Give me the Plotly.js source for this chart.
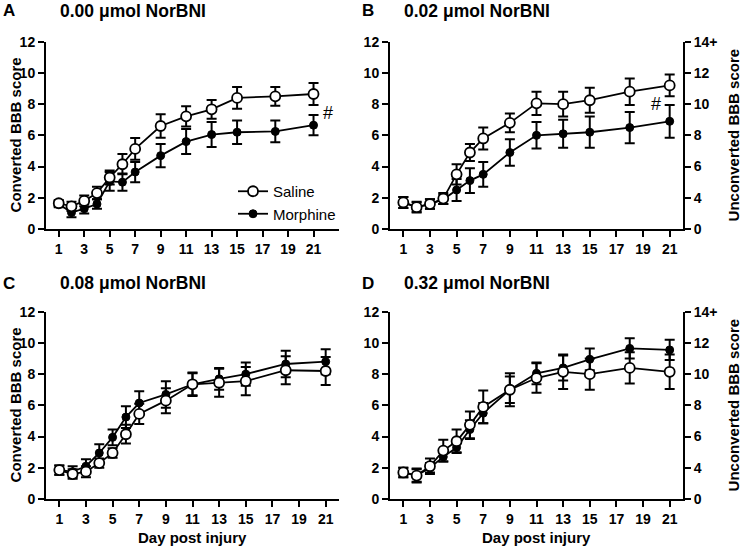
<!DOCTYPE html>
<html>
<head>
<meta charset="utf-8">
<script src="https://cdn.plot.ly/plotly-3.0.1.min.js"></script>
<style>
html,body{margin:0;padding:0;background:#fff;}
#chart{width:741px;height:551px;}
</style>
</head>
<body>
<div id="chart"></div>
<script>
// ---- data ----
const days = [1, 2, 3, 4, 5, 6, 7, 9, 11, 13, 15, 18, 21];
const xTickVals = [1, 3, 5, 7, 9, 11, 13, 15, 17, 19, 21];
const yTickVals = [0, 2, 4, 6, 8, 10, 12];
const rightTickText = ['0', '4', '6', '8', '10', '12', '14+'];
const seriesNames = ['Saline', 'Morphine'];
const panelLetters = ['A', 'B', 'C', 'D'];
const panelTitles = ['0.00 μmol NorBNI', '0.02 μmol NorBNI', '0.08 μmol NorBNI', '0.32 μmol NorBNI'];

// Panel A (0.00 µmol)
const salineA = [1.65, 1.45, 1.8, 2.3, 3.3, 4.15, 5.13, 6.6, 7.22, 7.67, 8.4, 8.5, 8.65];
const salineAErr = [0.2, 0.3, 0.35, 0.4, 0.45, 0.65, 0.7, 0.75, 0.65, 0.6, 0.7, 0.6, 0.7];
const morphineA = [1.6, 1.05, 1.3, 1.6, 3.05, 3.0, 3.65, 4.7, 5.6, 6.05, 6.2, 6.25, 6.65];
const morphineAErr = [0.2, 0.3, 0.3, 0.3, 0.6, 0.55, 0.65, 0.75, 0.8, 0.8, 0.75, 0.7, 0.65];

// Panel B (0.02 µmol)
const salineB = [1.7, 1.4, 1.6, 1.95, 3.5, 4.9, 5.8, 6.8, 8.05, 8.0, 8.25, 8.8, 9.2];
const salineBErr = [0.35, 0.35, 0.3, 0.35, 0.65, 0.55, 0.7, 0.6, 0.75, 0.8, 0.8, 0.85, 0.7];
const morphineB = [1.7, 1.4, 1.6, 1.9, 2.5, 3.1, 3.5, 4.9, 6.0, 6.1, 6.2, 6.5, 6.9];
const morphineBErr = [0.35, 0.3, 0.3, 0.3, 0.7, 0.8, 0.8, 0.85, 0.85, 0.9, 1.0, 1.0, 1.05];

// Panel C (0.08 µmol)
const salineC = [1.85, 1.6, 1.75, 2.3, 2.95, 4.15, 5.45, 6.3, 7.35, 7.45, 7.55, 8.25, 8.2];
const salineCErr = [0.3, 0.3, 0.35, 0.3, 0.3, 0.6, 0.65, 0.8, 0.75, 0.9, 0.9, 0.9, 0.9];
const morphineC = [1.85, 1.75, 2.1, 2.95, 3.95, 5.25, 6.15, 6.7, 7.35, 7.7, 8.0, 8.65, 8.8];
const morphineCErr = [0.3, 0.35, 0.45, 0.55, 0.5, 0.7, 0.75, 0.85, 0.7, 0.7, 0.75, 0.85, 0.8];

// Panel D (0.32 µmol)
const salineD = [1.7, 1.5, 2.1, 3.1, 3.7, 4.75, 5.9, 7.0, 7.75, 8.15, 8.0, 8.4, 8.15];
const salineDErr = [0.3, 0.45, 0.5, 0.7, 0.75, 0.85, 1.05, 0.85, 0.95, 1.1, 1.0, 1.0, 1.1];
const morphineD = [1.7, 1.5, 2.0, 2.7, 3.3, 4.45, 5.5, 7.0, 8.05, 8.4, 8.95, 9.65, 9.55];
const morphineDErr = [0.3, 0.4, 0.3, 0.3, 0.3, 0.6, 0.65, 1.05, 0.7, 0.8, 0.7, 0.65, 0.65];

// ---- build ----
const W = 741, H = 551;
const FONT = 'Liberation Sans, Arial, Helvetica, sans-serif';
const px = v => v / W;
const py = v => 1 - v / H;

const panels = [
  {sal: salineA, salE: salineAErr, mor: morphineA, morE: morphineAErr, xa: 'x', ya: 'y'},
  {sal: salineB, salE: salineBErr, mor: morphineB, morE: morphineBErr, xa: 'x2', ya: 'y2'},
  {sal: salineC, salE: salineCErr, mor: morphineC, morE: morphineCErr, xa: 'x3', ya: 'y3'},
  {sal: salineD, salE: salineDErr, mor: morphineD, morE: morphineDErr, xa: 'x4', ya: 'y4'}
];

const traces = [];
// empty traces so the right-hand (unconverted score) axes get drawn
traces.push({type: 'scatter', mode: 'markers', x: [], y: [], xaxis: 'x2', yaxis: 'y5', showlegend: false, hoverinfo: 'skip'});
traces.push({type: 'scatter', mode: 'markers', x: [], y: [], xaxis: 'x4', yaxis: 'y6', showlegend: false, hoverinfo: 'skip'});
panels.forEach((p, i) => {
  traces.push({
    type: 'scatter', mode: 'lines+markers', name: seriesNames[1],
    x: days, y: p.mor, xaxis: p.xa, yaxis: p.ya,
    error_y: {type: 'data', array: p.morE, visible: true, color: '#000', thickness: 2, width: 5},
    line: {color: '#000', width: 1.8},
    marker: {symbol: 'circle', size: 8, color: '#000', line: {color: '#000', width: 1}},
    showlegend: i === 0, cliponaxis: false
  });
  traces.push({
    type: 'scatter', mode: 'lines+markers', name: seriesNames[0],
    x: days, y: p.sal, xaxis: p.xa, yaxis: p.ya,
    error_y: {type: 'data', array: p.salE, visible: true, color: '#000', thickness: 2, width: 5},
    line: {color: '#000', width: 1.8},
    marker: {symbol: 'circle', size: 10, color: '#fff', line: {color: '#000', width: 1.8}},
    showlegend: i === 0, cliponaxis: false
  });
});

const tickFont = {family: FONT, size: 14, color: '#000', weight: 'bold'};
function xAxis(domain, anchor, range) {
  return {domain, anchor, range, tickvals: xTickVals, ticks: 'outside', ticklen: 6, tickwidth: 2,
    tickcolor: '#000', showline: true, linewidth: 2, linecolor: '#000', showgrid: false,
    zeroline: false, tickfont: tickFont, fixedrange: true};
}
function yAxis(domain, anchor) {
  return {domain, anchor, range: [0, 12], tickvals: yTickVals, ticks: 'outside', ticklen: 6, tickwidth: 2,
    tickcolor: '#000', showline: true, linewidth: 2, linecolor: '#000', showgrid: false,
    zeroline: false, tickfont: tickFont, fixedrange: true};
}

const xDomL = [px(46), px(339)], xDomR = [px(390), px(683)];
const yDomT = [py(229), py(41.7)], yDomB = [py(499), py(311.7)];

const rightAxis = (overlay, anchor) => ({
  overlaying: overlay, anchor, side: 'right', range: [0, 12], tickvals: yTickVals, ticktext: rightTickText,
  ticks: 'outside', ticklen: 6, tickwidth: 2, tickcolor: '#000', showline: true, linewidth: 2,
  linecolor: '#000', showgrid: false, zeroline: false, tickfont: tickFont, fixedrange: true
});

const annFont = (size, bold) => ({family: FONT, size, color: '#000', weight: bold ? 'bold' : 'normal'});
const annotations = [];
const letterPos = [[9, 11], [368, 11], [9, 283], [368, 283]];
const titlePos = [[58, 11], [402, 11], [58, 283], [402, 283]];
panelLetters.forEach((L, i) => {
  annotations.push({text: L, xref: 'paper', yref: 'paper', x: px(letterPos[i][0]), y: py(letterPos[i][1]),
    xanchor: 'center', yanchor: 'middle', showarrow: false, font: annFont(17, true)});
  annotations.push({text: panelTitles[i], xref: 'paper', yref: 'paper', x: px(titlePos[i][0]), y: py(titlePos[i][1]),
    xanchor: 'left', yanchor: 'middle', showarrow: false, font: annFont(17.5, true)});
});
// axis titles
[[15, 135.4], [15, 405.4]].forEach(p => annotations.push({text: 'Converted BBB score', xref: 'paper', yref: 'paper',
  x: px(p[0]), y: py(p[1]), xanchor: 'center', yanchor: 'middle', textangle: -90, showarrow: false, font: annFont(15, true)}));
[[733, 135.4], [733, 405.4]].forEach(p => annotations.push({text: 'Unconverted BBB score', xref: 'paper', yref: 'paper',
  x: px(p[0]), y: py(p[1]), xanchor: 'center', yanchor: 'middle', textangle: -90, showarrow: false, font: annFont(15, true)}));
[[192.5, 537], [536.5, 537]].forEach(p => annotations.push({text: 'Day post injury', xref: 'paper', yref: 'paper',
  x: px(p[0]), y: py(p[1]), xanchor: 'center', yanchor: 'middle', showarrow: false, font: annFont(15, true)}));
// significance marks
annotations.push({text: '#', xref: 'paper', yref: 'paper', x: px(328), y: py(113), xanchor: 'center', yanchor: 'middle',
  showarrow: false, font: annFont(18, false)});
annotations.push({text: '#', xref: 'paper', yref: 'paper', x: px(656), y: py(104), xanchor: 'center', yanchor: 'middle',
  showarrow: false, font: annFont(18, false)});

const layout = {
  width: W, height: H, margin: {l: 0, r: 0, t: 0, b: 0},
  paper_bgcolor: '#fff', plot_bgcolor: 'rgba(0,0,0,0)',
  font: {family: FONT, color: '#000'},
  showlegend: true,
  legend: {x: px(233), y: py(175), xanchor: 'left', yanchor: 'top', traceorder: 'reversed',
    font: {family: FONT, size: 15, color: '#000'}, bgcolor: 'rgba(0,0,0,0)', itemclick: false, tracegroupgap: 0},
  xaxis: xAxis(xDomL, 'y', [0, 23]),
  yaxis: yAxis(yDomT, 'x'),
  xaxis2: xAxis(xDomR, 'y2', [0, 22]),
  yaxis2: yAxis(yDomT, 'x2'),
  xaxis3: xAxis(xDomL, 'y3', [0, 22]),
  yaxis3: yAxis(yDomB, 'x3'),
  xaxis4: xAxis(xDomR, 'y4', [0, 22]),
  yaxis4: yAxis(yDomB, 'x4'),
  yaxis5: rightAxis('y2', 'x2'),
  yaxis6: rightAxis('y4', 'x4'),
  annotations
};

Plotly.newPlot('chart', traces, layout, {staticPlot: true, displayModeBar: false});
</script>
</body>
</html>
